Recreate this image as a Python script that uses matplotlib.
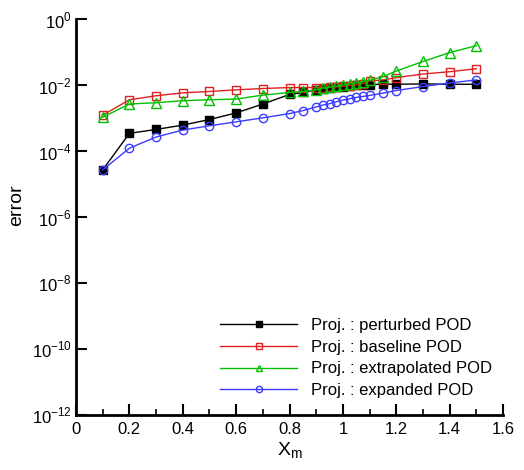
import matplotlib.pyplot as plt
import numpy as np

# x locations of the projections
xm = [0.1, 0.2, 0.3, 0.4, 0.5, 0.6, 0.7, 0.8, 0.85, 0.9, 0.925, 0.95, 0.975,
      1.0, 1.025, 1.05, 1.075, 1.1, 1.15, 1.2, 1.3, 1.4, 1.5]

# log10 of the error
perturbed = [-4.57, -3.46, -3.34, -3.21, -3.04, -2.84, -2.57, -2.28, -2.22, -2.14, -2.11, -2.08,
             -2.06, -2.04, -2.02, -2.00, -1.99, -1.98, -1.97, -1.97, -1.96, -1.97, -1.97]
baseline = [-2.91, -2.44, -2.32, -2.23, -2.19, -2.14, -2.10, -2.07, -2.07, -2.07, -2.07, -2.06,
            -2.05, -2.03, -2.01, -1.99, -1.95, -1.87, -1.84, -1.77, -1.66, -1.59, -1.50]
extrapolated = [-2.97, -2.57, -2.53, -2.47, -2.44, -2.42, -2.30, -2.22, -2.19, -2.14, -2.09, -2.06,
                -2.03, -1.99, -1.96, -1.93, -1.89, -1.85, -1.74, -1.57, -1.28, -1.01, -0.80]
expanded = [-4.57, -3.91, -3.57, -3.36, -3.23, -3.11, -2.99, -2.86, -2.77, -2.66, -2.60, -2.56,
            -2.50, -2.45, -2.41, -2.37, -2.34, -2.31, -2.24, -2.16, -2.04, -1.93, -1.84]

labels = ['Proj. : perturbed POD', 'Proj. : baseline POD',
          'Proj. : extrapolated POD', 'Proj. : expanded POD']

plt.rcParams['font.family'] = ['Liberation Sans', 'DejaVu Sans']
plt.rcParams['mathtext.fontset'] = 'custom'
plt.rcParams['mathtext.rm'] = 'Liberation Sans'

fig = plt.figure(figsize=(5.24, 4.70), dpi=100)
ax = fig.add_axes([0.145, 0.117, 0.815, 0.842])

ax.plot(xm, 10 ** np.array(perturbed), color='black', lw=1, marker='s', ms=5.5,
        mfc='black', mec='black', label=labels[0])
ax.plot(xm, 10 ** np.array(baseline), color='#e02020', lw=1, marker='s', ms=6,
        mfc='none', mec='#e02020', mew=1, label=labels[1])
ax.plot(xm, 10 ** np.array(extrapolated), color='#00c000', lw=1, marker='^', ms=6.5,
        mfc='none', mec='#00c000', mew=1, label=labels[2])
ax.plot(xm, 10 ** np.array(expanded), color='#3c3cff', lw=1, marker='o', ms=6,
        mfc='none', mec='#3c3cff', mew=1, label=labels[3])

ax.set_yscale('log')
ax.set_xlim(0, 1.6)
ax.set_ylim(1e-12, 1)
ax.set_yticks([10.0 ** k for k in range(-12, 1, 2)])
ax.set_yticklabels([r'$10^{%d}$' % k for k in range(-12, 1, 2)])
ax.yaxis.set_minor_locator(plt.NullLocator())
ax.set_xticks(np.arange(0, 1.61, 0.2))
ax.set_xticklabels(['0', '0.2', '0.4', '0.6', '0.8', '1', '1.2', '1.4', '1.6'])
ax.set_xticks(np.arange(0.1, 1.6, 0.2), minor=True)

for s in ['top', 'right']:
    ax.spines[s].set_visible(False)
for s in ['left', 'bottom']:
    ax.spines[s].set_linewidth(2)

ax.tick_params(which='major', direction='in', length=8, width=1.5, labelsize=12)
ax.tick_params(axis='x', which='major', pad=5)
ax.tick_params(axis='y', which='major', pad=3)
ax.tick_params(which='minor', direction='in', length=4, width=1.2)

ax.set_xlabel(r'X$_\mathrm{m}$', fontsize=14, labelpad=3)
ax.set_ylabel('error', fontsize=14, labelpad=2)
ax.yaxis.set_label_coords(-0.12, 0.53)

ax.legend(loc='lower right', frameon=False, fontsize=12, handlelength=4.6,
          handletextpad=0.85, labelspacing=0.4, markerscale=0.75,
          bbox_to_anchor=(1.01, 0.005))

fig.savefig('out.png', dpi=100)
